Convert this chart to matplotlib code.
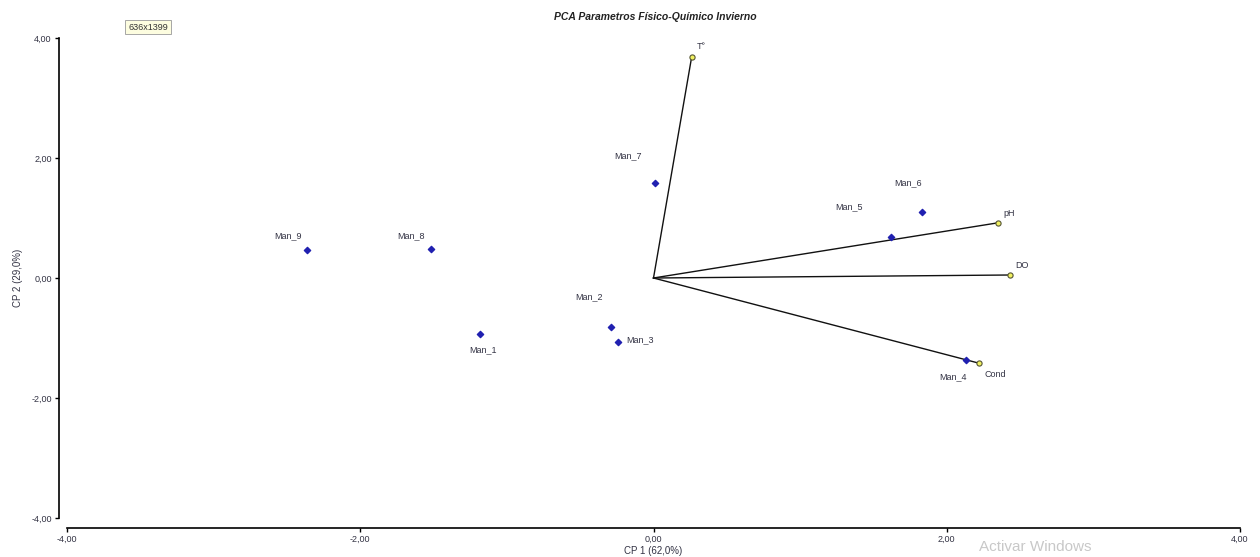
import matplotlib
matplotlib.use("Agg")
import matplotlib.pyplot as plt
from matplotlib.ticker import FuncFormatter

plt.rcParams['font.family'] = ['Liberation Sans', 'DejaVu Sans']

# site scores on the first two components
sites = ["Man_1", "Man_2", "Man_3", "Man_4", "Man_5", "Man_6", "Man_7", "Man_8", "Man_9"]
site_x = [-1.18, -0.29, -0.24, 2.13, 1.62, 1.83, 0.01, -1.52, -2.36]
site_y = [-0.93, -0.82, -1.07, -1.37, 0.68, 1.10, 1.58, 0.48, 0.47]

# variable loadings (arrows from origin)
variables = ["T°", "pH", "DO", "Cond"]
var_x = [0.26, 2.35, 2.43, 2.22]
var_y = [3.68, 0.92, 0.05, -1.42]

ticks = [-4, -2, 0, 2, 4]

# label offsets in points
site_offsets = [(-8, -13), (-26, 20), (6, 0), (-19, -14), (-40, 20), (-20, 19), (-29, 18), (-24, 8), (-24, 8)]
var_offsets = [(4, 6), (4, 5), (4, 5), (4, -10)]

fig = plt.figure(figsize=(12.6, 5.57), dpi=100)
ax = fig.add_axes([67 / 1260, 39 / 557, 1173 / 1260, 480 / 557])
ax.set_xlim(-4, 4)
ax.set_ylim(-4, 4)

for vx, vy in zip(var_x, var_y):
    ax.plot([0, vx], [0, vy], color="#111111", lw=1.0, zorder=2)
ax.scatter(var_x, var_y, s=14, facecolor="#f0f060", edgecolor="#555533", lw=0.8, zorder=4)
for name, vx, vy, off in zip(variables, var_x, var_y, var_offsets):
    ax.annotate(name, (vx, vy), xytext=off, textcoords="offset points",
                fontsize=6.5, color="#333344")

ax.scatter(site_x, site_y, s=10, marker="D", color="#2020b0", zorder=5)
for name, sx, sy, off in zip(sites, site_x, site_y, site_offsets):
    ax.annotate(name, (sx, sy), xytext=off, textcoords="offset points",
                fontsize=6.5, color="#333344")

fmt = FuncFormatter(lambda v, p: f"{v:.2f}".replace(".", ","))
ax.set_xticks(ticks)
ax.set_yticks(ticks)
ax.xaxis.set_major_formatter(fmt)
ax.yaxis.set_major_formatter(fmt)
ax.tick_params(labelsize=6.5, labelcolor="#333344", length=3, width=1, pad=2)

for s in ["top", "right"]:
    ax.spines[s].set_visible(False)
ax.spines["left"].set_position(("outward", 6))
ax.spines["bottom"].set_position(("outward", 7))
ax.spines["left"].set_linewidth(1.2)
ax.spines["bottom"].set_linewidth(1.2)

ax.set_xlabel("CP 1 (62,0%)", fontsize=7, color="#333344", labelpad=2)
ax.set_ylabel("CP 2 (29,0%)", fontsize=7, color="#333344", labelpad=6)
fig.text(0.52, 0.97, "PCA Parametros Físico-Químico Invierno", ha="center", va="center",
         fontsize=7.5, fontweight="bold", fontstyle="italic", color="#222222")

# screen overlays
fig.text(148 / 1260, 1 - 27 / 557, "636x1399", ha="center", va="center", fontsize=6.5,
         color="#333333",
         bbox=dict(boxstyle="square,pad=0.3", facecolor="#fdfde0", edgecolor="#999999", lw=0.6))
fig.text(1035 / 1260, 1 - 547 / 557, "Activar Windows", ha="center", va="center",
         fontsize=11, color="#c8c8c8")

fig.savefig("out.png", dpi=100)
